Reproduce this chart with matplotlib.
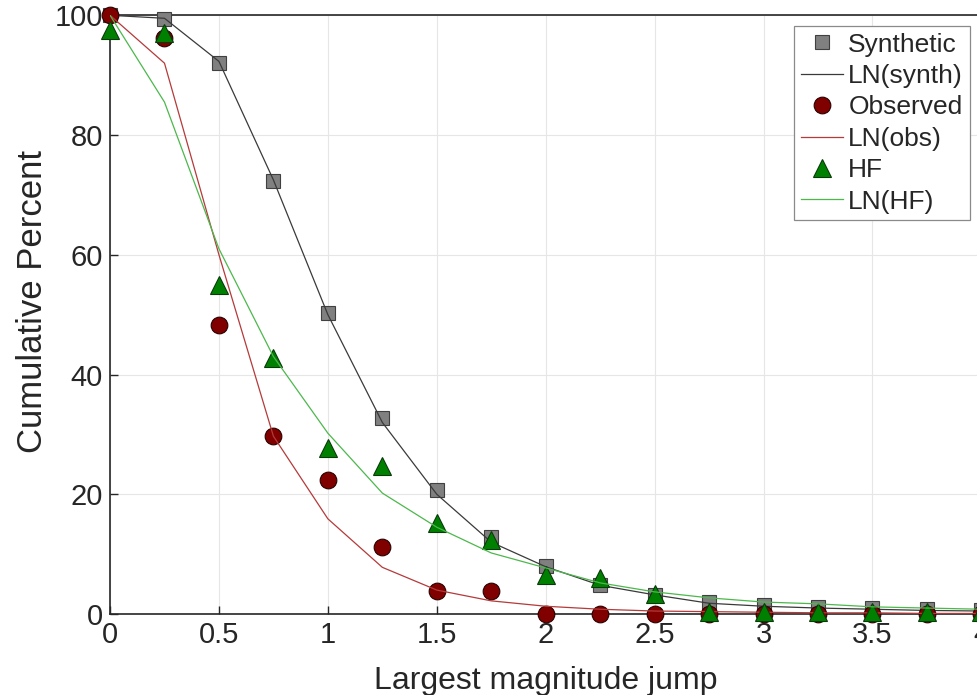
import numpy as np
import matplotlib
matplotlib.use("Agg")
import matplotlib.pyplot as plt

# largest magnitude jump bins
jump = [0, 0.25, 0.5, 0.75, 1.0, 1.25, 1.5, 1.75, 2.0, 2.25, 2.5, 2.75, 3.0, 3.25, 3.5, 3.75, 4.0]

synthetic = [100, 99.3, 92.0, 72.4, 50.2, 32.7, 20.7, 12.8, 8.0, 4.8, 3.2, 2.0, 1.5, 1.2, 1.0, 0.8, 0.6]
ln_synth = [100, 99.5, 92.3, 72.5, 50.0, 32.0, 20.0, 12.0, 7.9, 4.8, 3.2, 1.8, 1.3, 1.0, 0.8, 0.6, 0.5]
observed = [100, 96.2, 48.2, 29.7, 22.4, 11.2, 3.8, 3.8, 0, 0, 0, 0, 0, 0, 0, 0, 0]
ln_obs = [100, 92.0, 60.0, 29.7, 15.9, 7.8, 4.0, 2.2, 1.3, 0.8, 0.5, 0.4, 0.3, 0.2, 0.2, 0.1, 0.1]
hf = [97.5, 97.0, 55.0, 42.7, 27.7, 24.7, 15.2, 12.4, 6.5, 6.0, 3.3, 0.3, 0.3, 0.3, 0.3, 0.3, 0.3]
ln_hf = [100, 85.5, 61.0, 43.0, 30.2, 20.2, 14.5, 10.2, 7.7, 5.2, 3.7, 2.7, 2.0, 1.7, 1.2, 1.0, 0.8]

plt.rcParams.update({
    "font.family": ["Liberation Sans", "DejaVu Sans"],
    "font.size": 21,
    "text.color": "#262626",
    "axes.labelcolor": "#262626",
    "xtick.color": "#262626",
    "ytick.color": "#262626",
})

fig = plt.figure(figsize=(9.78, 6.95), dpi=100)
# axes deliberately run past the right edge, like the cropped reference
ax = fig.add_axes([0.1125, 0.1165, 0.891, 0.8615])

ax.plot(jump, synthetic, linestyle="none", marker="s", markersize=10,
        markerfacecolor="#808080", markeredgecolor="#404040", markeredgewidth=0.8,
        label="Synthetic", clip_on=False, zorder=3)
ax.plot(jump, ln_synth, color="#3a3a3a", linewidth=0.9, label="LN(synth)", zorder=4)
ax.plot(jump, observed, linestyle="none", marker="o", markersize=12,
        markerfacecolor="#800000", markeredgecolor="#2a0000", markeredgewidth=0.8,
        label="Observed", clip_on=False, zorder=5)
ax.plot(jump, ln_obs, color="#b53a3a", linewidth=0.9, label="LN(obs)", zorder=6)
ax.plot(jump, hf, linestyle="none", marker="^", markersize=13,
        markerfacecolor="#008000", markeredgecolor="#0a3a0a", markeredgewidth=0.8,
        label="HF", clip_on=False, zorder=7)
ax.plot(jump, ln_hf, color="#4cb84c", linewidth=0.9, label="LN(HF)", zorder=8)

ax.set_xlim(0, 4)
ax.set_ylim(0, 100)
ax.set_xticks(np.arange(0, 4.01, 0.5))
ax.set_xticklabels(["0", "0.5", "1", "1.5", "2", "2.5", "3", "3.5", "4"])
ax.set_yticks([0, 20, 40, 60, 80, 100])
ax.tick_params(direction="in", length=6, width=1, labelsize=21, pad=5)
ax.grid(True, color="#e6e6e6", linewidth=0.8)
ax.set_axisbelow(True)
for s in ax.spines.values():
    s.set_color("#262626")
    s.set_linewidth(1.2)

ax.set_xlabel("Largest magnitude jump", fontsize=23, labelpad=12)
ax.set_ylabel("Cumulative Percent", fontsize=25)
ax.yaxis.set_label_coords(-0.07, 0.522)

leg = ax.legend(loc="upper right", bbox_to_anchor=(0.9865, 0.982), fontsize=19,
                frameon=True, fancybox=False, edgecolor="#8a8a8a", framealpha=1,
                handlelength=1.6, handletextpad=0.2, labelspacing=0.28,
                borderpad=0.25, borderaxespad=0)
leg.get_frame().set_linewidth(0.9)

fig.savefig("out.png", dpi=100)
